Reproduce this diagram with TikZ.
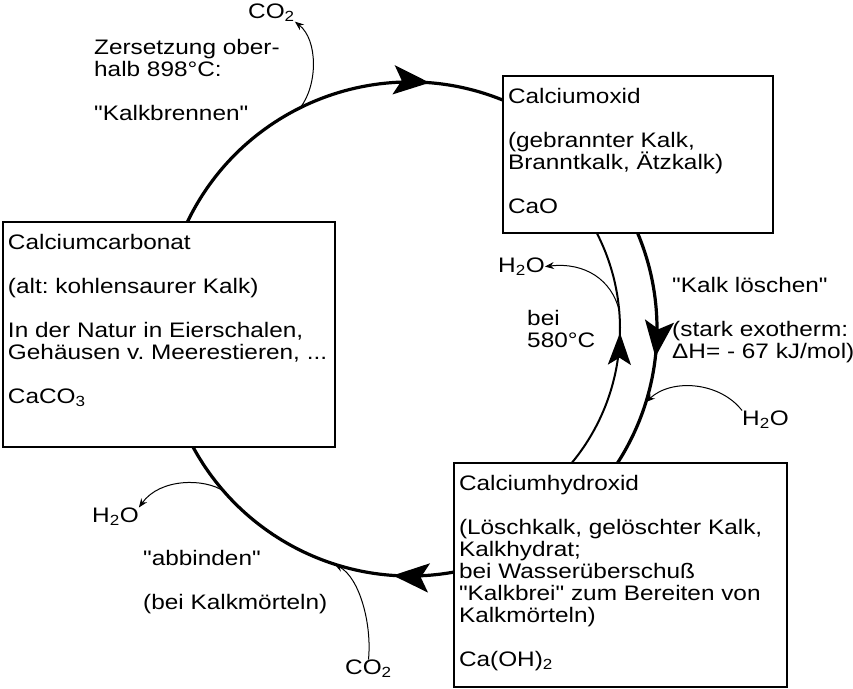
\documentclass[tikz,border=0pt]{standalone}
\usepackage{fontspec}
\setmainfont{Liberation Sans}[FakeStretch=1.16, Ligatures=TeXOff]
\usetikzlibrary{arrows.meta,decorations.markings}
\frenchspacing

\begin{document}
\begin{tikzpicture}[
    x=1pt, y=1pt,
    every node/.style={font=\fontsize{21}{22}\selectfont},
    kasten/.style={rectangle, draw, line width=2pt, fill=white, anchor=north west,
                   inner xsep=5pt, inner ysep=12pt, outer sep=0pt},
    beschriftung/.style={anchor=north west, inner sep=0pt, align=left},
    bogen/.style={line width=3.2pt},
    bogeninnen/.style={line width=2pt},
    spitze/.style={postaction={decorate}, decoration={markings,
        mark=at position #1 with {\arrow{Stealth[length=36pt, width=29pt, inset=8pt]}}}},
    spitzeklein/.style={postaction={decorate}, decoration={markings,
        mark=at position #1 with {\arrow{Stealth[length=32pt, width=23pt, inset=7pt]}}}},
    pfeil/.style={line width=1pt, -{Stealth[length=9pt, width=7pt]}}
  ]
  \useasboundingbox (0,0) rectangle (853,688);
  \coordinate (mitte) at (410,359);

  % Kreislauf
  \draw[bogen, spitze=0.784] ([shift={(156:247)}]mitte) arc (156:66:247);
  \draw[bogen, spitze=0.526] ([shift={(24:247)}]mitte) arc (24:-34:247);
  \draw[bogeninnen, spitzeklein=0.571] ([shift={(-41:210)}]mitte) arc (-41:29:210);
  \draw[bogen, spitze=0.213] ([shift={(-78:247)}]mitte) arc (-78:-153:247);

  % Stoffe
  \node[kasten] (carbonat) at (3,466) {\parbox[t][201pt][t]{322pt}{Calciumcarbonat\\[22pt]
    (alt: kohlensaurer Kalk)\\[22pt]
    In der Natur in Eierschalen,\\ Gehäusen v. Meerestieren, ...\\[22pt]
    CaCO\textsubscript{3}}};
  \node[kasten] (oxid) at (503,612) {\parbox[t][133pt][t]{260pt}{Calciumoxid\\[22pt]
    (gebrannter Kalk,\\ Branntkalk, Ätzkalk)\\[22pt]
    CaO}};
  \node[kasten] (hydroxid) at (454,225) {\parbox[t][200pt][t]{323pt}{Calciumhydroxid\\[22pt]
    (Löschkalk, gelöschter Kalk,\\ Kalkhydrat;\\ bei Wasserüberschuß\\
    "Kalkbrei" zum Bereiten von\\ Kalkmörteln)\\[22pt]
    Ca(OH)\textsubscript{2}}};

  % Beschriftungen
  \node[beschriftung] (zersetzung) at (94,648.5) {Zersetzung ober-\\halb 898°C:\\[22pt]"Kalkbrennen"};
  \node[beschriftung] (co2oben) at (248,684.5) {CO\textsubscript{2}};
  \node[beschriftung] (h2oinnen) at (498,430.5) {H\textsubscript{2}O};
  \node[beschriftung] (bei) at (527,377.5) {bei\\580°C};
  \node[beschriftung] (loeschen) at (672,410.5) {"Kalk löschen"\\[22pt](stark exotherm:\\ΔH= - 67 kJ/mol)};
  \node[beschriftung] (h2orechts) at (742,277.5) {H\textsubscript{2}O};
  \node[beschriftung] (h2olinks) at (92,180.5) {H\textsubscript{2}O};
  \node[beschriftung] (abbinden) at (143,137.5) {"abbinden"\\[22pt](bei Kalkmörteln)};
  \node[beschriftung] (co2unten) at (345,28.5) {CO\textsubscript{2}};

  % Abgabe und Aufnahme
  \coordinate (aco2) at ([shift={(116.4:247)}]mitte);
  \coordinate (ah2o) at ([shift={(5:210)}]mitte);
  \coordinate (eh2o) at ([shift={(-17.2:247)}]mitte);
  \coordinate (bh2o) at ([shift={(221.1:247)}]mitte);
  \coordinate (eco2) at ([shift={(-107.8:247)}]mitte);
  \draw[pfeil] (aco2) .. controls (318,603) and (318,648) .. (co2oben.south east);
  \draw[pfeil] (ah2o) .. controls (612,408) and (585,426) .. (h2oinnen.east);
  \draw[pfeil] (h2orechts.north west) .. controls (720,306) and (672,310) .. (eh2o);
  \draw[pfeil] (bh2o) .. controls (205,210) and (160,210) .. (h2olinks.north east);
  \draw[pfeil] (co2unten.north) .. controls (372,63) and (360,110) .. (eco2);
\end{tikzpicture}
\end{document}
